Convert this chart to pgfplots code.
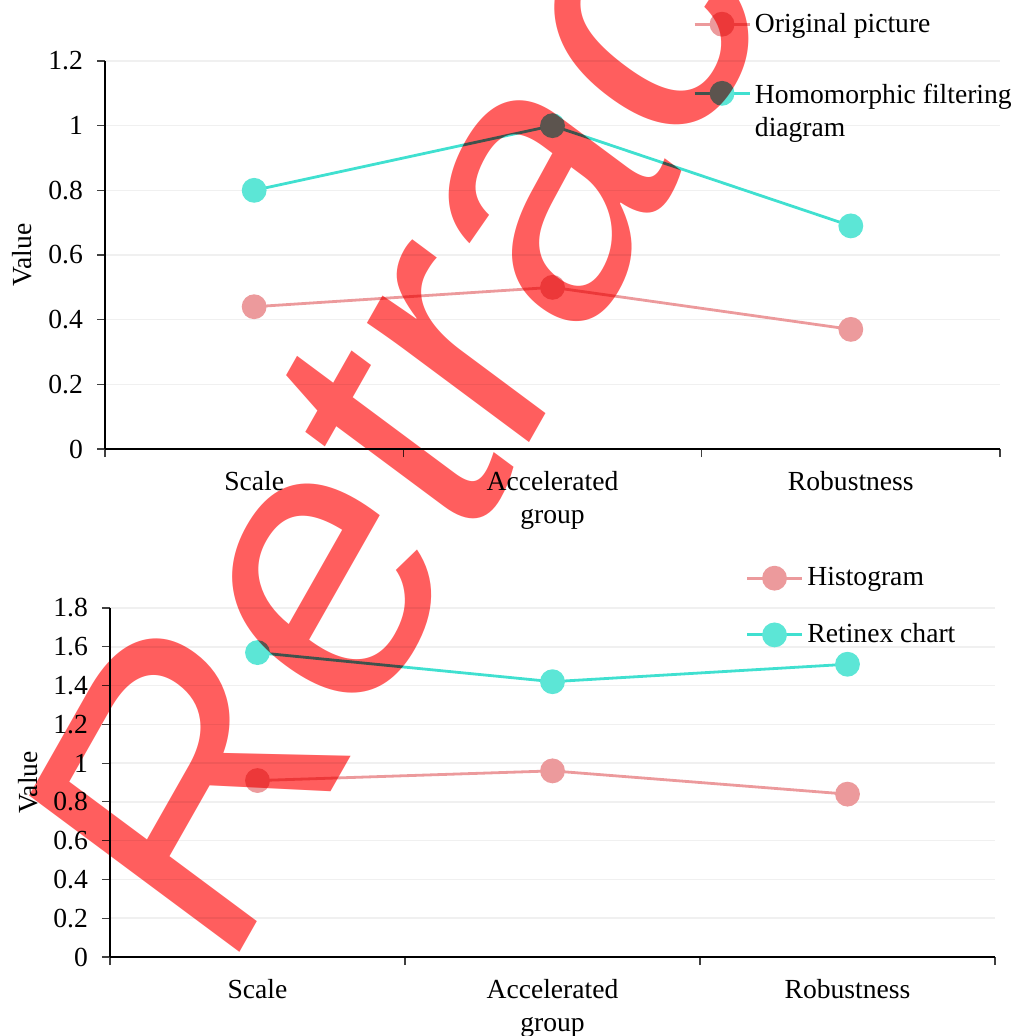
\documentclass[border=0pt]{standalone}
\usepackage{pgfplots}
\pgfplotsset{compat=1.18}
\usepackage{fontspec}
\setmainfont{Liberation Serif}
\newfontfamily\wmfont{Liberation Sans}

\definecolor{pinkline}{RGB}{236,154,156}
\definecolor{tealline}{RGB}{64,224,208}
\definecolor{tealmark}{RGB}{92,230,214}
\definecolor{gridgray}{RGB}{240,240,240}
\definecolor{stampred}{RGB}{255,94,94}

\pgfplotsset{
  panel/.style={
    scale only axis,
    xmin=0, xmax=3, ymin=0,
    axis x line*=bottom, axis y line*=left,
    axis line style={black, line width=1pt, -},
    xtick={0.5,1.5,2.5},
    xticklabels={Scale,{Accelerated\\group},Robustness},
    major x tick style={draw=none},
    minor xtick={0,1,2,3},
    tick align=outside,
    major tick length=4pt, minor tick length=4pt,
    every tick/.style={black!75, line width=0.6pt},
    ymajorgrids, grid style={gridgray, line width=0.8pt},
    ylabel=Value,
    tick label style={font=\fontsize{13.8}{16.5}\selectfont},
    xticklabel style={align=center, yshift=-3.5pt},
    yticklabel style={xshift=-3.5pt},
    /pgf/number format/assume math mode=true,
    label style={font=\fontsize{13.8}{16.5}\selectfont},
    ylabel style={at={(axis description cs:-0.0927,0.5)}, anchor=center},
    legend style={draw=none, fill=none, anchor=north west,
      font=\fontsize{13.8}{16.5}\selectfont, cells={anchor=west}},
    legend cell align=left,
    legend image code/.code={%
      \draw[mark repeat=2, mark phase=2, #1]
        plot coordinates {(0pt,0pt) (13.75pt,0pt) (27.5pt,0pt)};},
    clip=false,
  },
  pinkseries/.style={color=pinkline, line width=1.4pt, mark=*,
    mark size=5.5pt, mark options={fill=pinkline, draw=pinkline}},
  tealseries/.style={color=tealline, line width=1.4pt, mark=*,
    mark size=5.5pt, mark options={fill=tealmark, draw=tealmark}},
}

\begin{document}
\begin{tikzpicture}
\useasboundingbox (0pt,0pt) rectangle (510.5pt,-518pt);

% upper panel
\begin{axis}[panel,
  at={(52.5pt,-224.5pt)}, anchor=south west,
  width=447.5pt, height=194pt,
  ymax=1.2, ytick={0,0.2,0.4,0.6,0.8,1,1.2},
  legend style={at={(0.650,1.145)}, row sep=18.5pt}]
\addplot[pinkseries] coordinates {(0.5,0.44) (1.5,0.50) (2.5,0.37)};
\addlegendentry{Original picture}
\addplot[tealseries] coordinates {(0.5,0.80) (1.5,1.00) (2.5,0.69)};
\addlegendentry{\begin{tabular}[t]{@{}l@{}}Homomorphic filtering\\diagram\end{tabular}}
\end{axis}

% lower panel
\begin{axis}[panel,
  at={(55pt,-478.5pt)}, anchor=south west,
  width=442.5pt, height=174.5pt,
  ymax=1.8, ytick={0,0.2,0.4,0.6,0.8,1,1.2,1.4,1.6,1.8},
  legend style={at={(0.711,1.14)}, row sep=13.5pt}]
\addplot[pinkseries] coordinates {(0.5,0.91) (1.5,0.96) (2.5,0.84)};
\addlegendentry{Histogram}
\addplot[tealseries] coordinates {(0.5,1.57) (1.5,1.42) (2.5,1.51)};
\addlegendentry{Retinex chart}
\end{axis}

% retraction stamp across both panels
\begin{scope}[blend mode=multiply]
\node[yscale=1.145, rotate=57, yscale=1.06, anchor=base west, inner sep=0pt,
  text=stampred, font=\wmfont\fontsize{172}{172}\selectfont]
  at (112.2pt,-489.85pt) {Retract};
\end{scope}
\end{tikzpicture}
\end{document}
